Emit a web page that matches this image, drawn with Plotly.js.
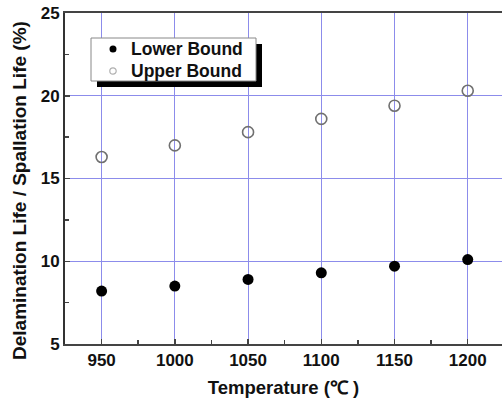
<!DOCTYPE html>
<html>
<head>
<meta charset="utf-8">
<script src="https://cdn.plot.ly/plotly-3.0.1.min.js"></script>
<style>html,body{margin:0;padding:0;overflow:hidden;background:#fff;}</style>
</head>
<body>
<div id="chart" style="width:502px;height:401px;"></div>
<script>
const temperatures = [950, 1000, 1050, 1100, 1150, 1200];
const lowerBound = [8.2, 8.5, 8.9, 9.3, 9.7, 10.1];
const upperBound = [16.3, 17.0, 17.8, 18.6, 19.4, 20.3];
const xTicks = [950, 1000, 1050, 1100, 1150, 1200];
const yTicks = [5, 10, 15, 20, 25];
const seriesNames = ['Lower Bound', 'Upper Bound'];

const F = 'Arial, "Liberation Sans", sans-serif';
// plot area in pixels: left 65, top 13, width 437, height 331
const px = v => (v - 65) / 437;
const py = v => (344 - v) / 331;

const traces = [
  {x: temperatures, y: lowerBound, mode: 'markers', type: 'scatter', name: seriesNames[0], showlegend: false,
   marker: {symbol: 'circle', size: 11, color: '#000', line: {width: 0}}},
  {x: temperatures, y: upperBound, mode: 'markers', type: 'scatter', name: seriesNames[1], showlegend: false,
   marker: {symbol: 'circle-open', size: 11, color: '#707070', line: {width: 1.6, color: '#707070'}}}
];

const rowY = [49, 71];
const legendShapes = [
  {type: 'rect', xref: 'paper', yref: 'paper', layer: 'above',
   x0: px(97), x1: px(262), y0: py(87), y1: py(44), fillcolor: '#000', line: {width: 0}},
  {type: 'rect', xref: 'paper', yref: 'paper', layer: 'above',
   x0: px(91), x1: px(256), y0: py(81), y1: py(38), fillcolor: '#fff', line: {width: 1, color: '#888'}},
  {type: 'circle', xref: 'paper', yref: 'paper', layer: 'above', xsizemode: 'pixel', ysizemode: 'pixel',
   xanchor: px(113), yanchor: py(rowY[0]), x0: -3.5, x1: 3.5, y0: -3.5, y1: 3.5,
   fillcolor: '#000', line: {width: 0}},
  {type: 'circle', xref: 'paper', yref: 'paper', layer: 'above', xsizemode: 'pixel', ysizemode: 'pixel',
   xanchor: px(113), yanchor: py(rowY[1]), x0: -3.2, x1: 3.2, y0: -3.2, y1: 3.2,
   fillcolor: 'rgba(0,0,0,0)', line: {width: 1.2, color: '#b0b0b0'}}
];

const legendAnnotations = seriesNames.map((name, i) => ({
  text: name, showarrow: false, xref: 'paper', yref: 'paper',
  x: px(129), y: py(rowY[i]), xanchor: 'left', yanchor: 'middle',
  font: {family: F, size: 17.5, color: '#111', weight: 'bold'}
}));

const layout = {
  width: 502, height: 401,
  margin: {l: 65, r: 0, t: 13, b: 57},
  paper_bgcolor: '#fff', plot_bgcolor: '#fff',
  showlegend: false,
  xaxis: {
    range: [925, 1223.4], tickvals: xTicks, ticktext: xTicks.map(String),
    showgrid: true, gridcolor: 'rgb(140,140,235)', gridwidth: 1,
    zeroline: false, showline: true, linecolor: '#444', linewidth: 2, mirror: true,
    ticks: 'inside', ticklen: 5, tickcolor: '#444', tickwidth: 1.5,
    minor: {ticks: 'inside', ticklen: 4, dtick: 50, tick0: 975, tickcolor: '#444', showgrid: false},
    tickfont: {family: F, size: 17, color: '#111', weight: 'bold'},
    title: {text: 'Temperature (℃ )', font: {family: F, size: 18.5, color: '#111', weight: 'bold'}, standoff: 12}
  },
  yaxis: {
    range: [5, 25], tickvals: yTicks, ticktext: yTicks.map(String),
    showgrid: true, gridcolor: 'rgb(140,140,235)', gridwidth: 1,
    zeroline: false, showline: true, linecolor: '#333', linewidth: 2, mirror: false,
    ticks: 'inside', ticklen: 5, tickcolor: '#444', tickwidth: 1.5,
    minor: {ticks: 'inside', ticklen: 4, dtick: 5, tick0: 7.5, tickcolor: '#444', showgrid: false},
    tickfont: {family: F, size: 17, color: '#111', weight: 'bold'},
    title: {text: ''}
  },
  shapes: legendShapes,
  annotations: [
    {text: 'Delamination Life / Spallation Life (%)', textangle: -90, showarrow: false,
     xref: 'paper', yref: 'paper', x: px(19), y: py(191), xanchor: 'center', yanchor: 'middle',
     font: {family: F, size: 19, color: '#111', weight: 'bold'}},
    ...legendAnnotations
  ]
};

Plotly.newPlot('chart', traces, layout, {displayModeBar: false, staticPlot: true});
</script>
</body>
</html>
